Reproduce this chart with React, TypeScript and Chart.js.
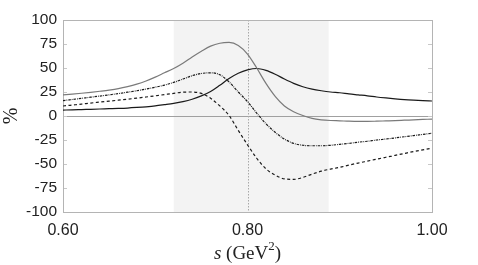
import React, { useEffect, useRef } from "react";
import { Chart, registerables } from "chart.js";

Chart.register(...registerables);

const S = [0.60, 0.61, 0.62, 0.63, 0.64, 0.65, 0.66, 0.67, 0.68, 0.69, 0.70, 0.71, 0.72, 0.73, 0.74, 0.75, 0.76, 0.77, 0.78, 0.79, 0.80, 0.81, 0.82, 0.83, 0.84, 0.85, 0.86, 0.87, 0.88, 0.89, 0.90, 0.91, 0.92, 0.93, 0.94, 0.95, 0.96, 0.97, 0.98, 0.99, 1.00];

const GRAY_SOLID = [22, 22.8, 23.7, 24.7, 25.8, 27, 28.5, 30.6, 33.2, 36.5, 40.5, 45, 49.5, 55, 61.5, 67.5, 72.8, 75.8, 76.6, 73.5, 64.5, 50, 34, 20.5, 10.5, 4.5, 0.5, -2.5, -4, -4.7, -5, -5.4, -5.6, -5.6, -5.4, -5.1, -4.8, -4.4, -4, -3.6, -3.2];
const BLACK_SOLID = [6.2, 6.4, 6.7, 7, 7.3, 7.6, 7.9, 8.3, 8.9, 9.6, 10.5, 11.8, 13.2, 15, 17.5, 21, 25.5, 32, 39, 44.5, 48, 49.5, 47.5, 43.5, 38.5, 34, 30.5, 28, 26.3, 25, 24.2, 23, 22, 21, 19.8, 18.8, 17.9, 17.1, 16.5, 16, 15.6];
const DASH_DOT = [16, 17.2, 18.4, 19.6, 20.8, 22, 23.3, 24.8, 26.3, 28, 30, 32.2, 35, 38.5, 42, 44.3, 45, 43, 35.5, 25, 15, 3, -8, -17, -24, -28.5, -30.5, -31, -31, -30.5, -29.5, -28.5, -27.3, -26.3, -25, -24, -22.8, -21.6, -20.4, -19.2, -18];
const DASHED = [10.4, 11.4, 12.4, 13.5, 14.5, 15.5, 16.5, 17.5, 18.6, 19.8, 21, 22.3, 23.6, 24.8, 25, 23.5, 18.5, 10.5, 0.5, -15, -30, -44, -55, -61.5, -65.5, -66, -64, -60.5, -57.5, -55.3, -53.5, -51.2, -49, -47, -45, -43, -41, -39, -37, -35.3, -33.6];

const BAND = [0.72, 0.888];
const MARK_S = 0.8;
const Y_TICKS = [-100, -75, -50, -25, 0, 25, 50, 75, 100];
const X_TICKS = [0.6, 0.8, 1.0];

const pts = (ys: number[]) => S.map((s, i) => ({ x: s, y: ys[i] }));

const decorPlugin = {
  id: "decor",
  beforeDatasetsDraw(chart: any) {
    const { ctx, chartArea: a, scales } = chart;
    const xs = scales.x;
    const ys = scales.y;
    ctx.save();
    const bx0 = xs.getPixelForValue(BAND[0]);
    const bx1 = xs.getPixelForValue(BAND[1]);
    ctx.fillStyle = "#f3f3f3";
    ctx.fillRect(bx0, a.top, bx1 - bx0, a.bottom - a.top);
    const y0 = Math.round(ys.getPixelForValue(0)) + 0.5;
    ctx.strokeStyle = "#a0a0a0";
    ctx.lineWidth = 1;
    ctx.beginPath();
    ctx.moveTo(a.left, y0);
    ctx.lineTo(a.right, y0);
    ctx.stroke();
    const vx = Math.round(xs.getPixelForValue(MARK_S)) + 0.5;
    ctx.strokeStyle = "#a8a8a8";
    ctx.setLineDash([1.5, 1.5]);
    ctx.beginPath();
    ctx.moveTo(vx, a.top);
    ctx.lineTo(vx, a.bottom);
    ctx.stroke();
    ctx.setLineDash([]);
    ctx.strokeStyle = "#c8c8c8";
    for (const t of Y_TICKS) {
      const py = Math.round(ys.getPixelForValue(t)) + 0.5;
      ctx.beginPath();
      ctx.moveTo(a.left, py);
      ctx.lineTo(a.left + 4, py);
      ctx.moveTo(a.right - 4, py);
      ctx.lineTo(a.right, py);
      ctx.stroke();
    }
    ctx.strokeStyle = "#b4b4b4";
    ctx.strokeRect(Math.round(a.left) + 0.5, Math.round(a.top) + 0.5, Math.round(a.right - a.left), Math.round(a.bottom - a.top));
    ctx.restore();
  },
  afterDraw(chart: any) {
    const { ctx, chartArea: a } = chart;
    ctx.save();
    ctx.fillStyle = "#222";
    ctx.save();
    ctx.translate(12, (a.top + a.bottom) / 2);
    ctx.rotate(-Math.PI / 2);
    ctx.font = "20px 'Liberation Serif', 'DejaVu Serif', serif";
    ctx.textAlign = "center";
    ctx.textBaseline = "middle";
    ctx.fillText("%", 0, 0);
    ctx.restore();
    const base = 259;
    const fItal = "italic 19px 'Liberation Serif', serif";
    const fReg = "19px 'Liberation Serif', serif";
    const fSup = "13px 'Liberation Serif', serif";
    const parts: [string, string, number][] = [
      ["s", fItal, 0],
      [" (GeV", fReg, 0],
      ["2", fSup, -9],
      [")", fReg, 0],
    ];
    let total = 0;
    for (const [t, f] of parts) {
      ctx.font = f;
      total += ctx.measureText(t).width;
    }
    let x = (a.left + a.right) / 2 - total / 2;
    ctx.textBaseline = "alphabetic";
    ctx.textAlign = "left";
    for (const [t, f, dy] of parts) {
      ctx.font = f;
      ctx.fillText(t, x, base + dy);
      x += ctx.measureText(t).width;
    }
    ctx.restore();
  },
};

export default function App() {
  const ref = useRef<HTMLCanvasElement | null>(null);
  useEffect(() => {
    if (!ref.current) return;
    const common = { pointRadius: 0, borderWidth: 1.2, fill: false, cubicInterpolationMode: "monotone" };
    const chart = new Chart(ref.current, {
      type: "line",
      data: {
        datasets: [
          { ...common, label: "gray", data: pts(GRAY_SOLID), borderColor: "#7a7a7a" },
          { ...common, label: "black", data: pts(BLACK_SOLID), borderColor: "#1a1a1a" },
          { ...common, label: "dashdot", data: pts(DASH_DOT), borderColor: "#1a1a1a", borderDash: [2.5, 1, 0.8, 1] },
          { ...common, label: "dashed", data: pts(DASHED), borderColor: "#1a1a1a", borderDash: [3, 2.5] },
        ],
      },
      options: {
        animation: false,
        responsive: false,
        maintainAspectRatio: false,
        layout: { padding: { left: 0, right: 46, top: 20, bottom: 0 } },
        plugins: { legend: { display: false }, tooltip: { enabled: false } },
        scales: {
          x: {
            type: "linear",
            min: 0.6,
            max: 1.0,
            afterBuildTicks: (sc: any) => {
              sc.ticks = X_TICKS.map((v) => ({ value: v }));
            },
            afterFit: (sc: any) => {
              sc.height = 53;
            },
            grid: { display: false, drawTicks: false },
            border: { display: false },
            ticks: {
              color: "#222",
              font: { family: "'Liberation Sans', Arial, sans-serif", size: 16 },
              padding: 9,
              maxRotation: 0,
              callback: (v: any) => Number(v).toFixed(2),
            },
          },
          y: {
            type: "linear",
            min: -100,
            max: 100,
            afterBuildTicks: (sc: any) => {
              sc.ticks = Y_TICKS.map((v) => ({ value: v }));
            },
            afterFit: (sc: any) => {
              sc.width = 63;
            },
            grid: { display: false, drawTicks: false },
            border: { display: false },
            ticks: {
              color: "#222",
              font: { family: "'Liberation Sans', Arial, sans-serif", size: 15.5 },
              padding: 6,
              callback: (v: any) => String(v),
            },
          },
        },
      },
      plugins: [decorPlugin],
    } as any);
    return () => chart.destroy();
  }, []);
  return (
    <div style={{ position: "fixed", left: 0, top: 0, width: 478, height: 265, background: "#fff" }}>
      <canvas ref={ref} width={478} height={265} style={{ display: "block", width: 478, height: 265 }} />
    </div>
  );
}
